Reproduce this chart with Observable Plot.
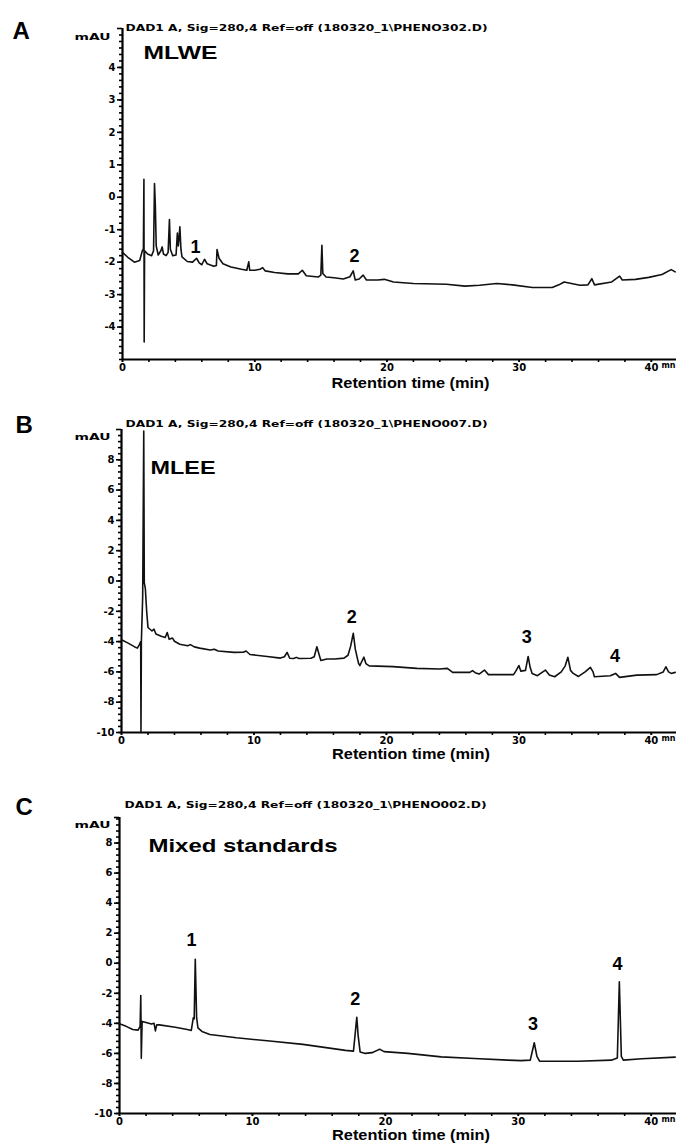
<!DOCTYPE html>
<html><head><meta charset="utf-8">
<script src="https://cdn.jsdelivr.net/npm/d3@7"></script>
<script src="https://cdn.jsdelivr.net/npm/@observablehq/plot@0.6"></script>
<style>
body{margin:0;background:#fff;}
#root{position:relative;width:686px;height:1147px;overflow:hidden;background:#fff;}
#root svg{position:absolute;left:0;overflow:visible;}
</style></head><body><div id="root"></div>
<script>
// ---------- Panel A: MLWE ----------
const timeA = [0,0.4,0.9,1.3,1.5,1.58,1.62,1.64,1.67,1.9,2.2,2.35,2.42,2.48,2.55,2.7,2.9,3.0,3.1,3.3,3.45,3.55,3.62,3.8,4.05,4.15,4.22,4.27,4.34,4.42,4.5,4.9,5.3,5.6,5.8,6.0,6.2,6.4,6.9,7.1,7.15,7.3,7.6,8.2,9.0,9.4,9.55,9.62,10.0,10.4,10.6,10.8,11.5,12.5,13.3,13.6,13.9,14.8,15.0,15.08,15.15,15.4,16.0,16.7,17.2,17.45,17.6,17.9,18.2,18.45,19.3,19.8,20.5,22.0,24.5,25.9,27.0,28.3,29.5,31.0,32.5,33.0,33.4,34.6,35.2,35.5,35.7,37.0,37.6,37.8,38.8,39.8,40.8,41.5,41.8];
const signalA = [-1.70,-1.85,-2.0,-1.95,-1.65,-1.6,0.55,-4.46,-1.65,-1.75,-1.80,-1.65,0.42,-0.2,-1.5,-1.78,-1.65,-1.53,-1.75,-1.80,-1.7,-0.69,-1.6,-1.80,-1.78,-1.1,-1.5,-1.3,-0.91,-1.6,-1.84,-1.98,-2.0,-1.88,-2.02,-2.08,-1.91,-2.05,-2.13,-2.1,-1.61,-1.88,-2.05,-2.15,-2.22,-2.25,-1.99,-2.25,-2.25,-2.22,-2.17,-2.27,-2.32,-2.36,-2.36,-2.25,-2.42,-2.46,-2.4,-1.48,-2.35,-2.46,-2.48,-2.52,-2.45,-2.27,-2.55,-2.52,-2.40,-2.55,-2.55,-2.53,-2.61,-2.66,-2.68,-2.74,-2.71,-2.66,-2.70,-2.78,-2.78,-2.70,-2.61,-2.71,-2.70,-2.51,-2.70,-2.61,-2.43,-2.55,-2.53,-2.47,-2.38,-2.23,-2.30];
const peakNamesA = ["1","2"];
const peakTimeA = [5.52,17.55];
const peakLabelYA = [-1.54,-1.83];

// ---------- Panel B: MLEE ----------
const timeB = [0,0.5,1.0,1.2,1.35,1.45,1.47,1.5,1.6,1.68,1.72,1.8,1.9,2.0,2.3,2.45,2.6,3.0,3.3,3.45,3.6,3.85,4.0,4.4,5.0,5.2,5.5,5.9,6.7,7.0,7.3,8.5,9.2,9.4,9.7,11.0,12.0,12.3,12.5,12.7,13.0,13.2,13.4,14.3,14.55,14.75,14.9,15.05,15.5,16.1,16.8,17.1,17.3,17.5,17.65,17.9,18.0,18.2,18.3,18.45,18.7,20.5,22.3,24.0,24.6,25.0,26.3,26.5,26.7,27.0,27.4,27.7,29.6,29.8,30.0,30.15,30.5,30.7,30.85,31.0,31.4,32.0,32.3,32.7,33.2,33.5,33.7,33.9,34.1,34.5,35.0,35.4,35.6,35.7,36.9,37.3,37.6,38.9,40.4,40.9,41.1,41.3,41.5,41.8];
const signalB = [-3.88,-4.1,-4.35,-4.43,-4.2,-4.0,-10,-4.0,-1.0,9.9,-0.1,-0.5,-2.0,-3.07,-3.3,-3.18,-3.5,-3.65,-3.73,-3.40,-3.85,-3.77,-3.98,-4.17,-4.28,-4.2,-4.35,-4.43,-4.56,-4.5,-4.62,-4.71,-4.70,-4.62,-4.85,-4.98,-5.09,-5.0,-4.71,-5.1,-5.12,-5.04,-5.12,-5.10,-5.0,-4.34,-4.8,-5.25,-5.15,-5.15,-5.09,-4.9,-4.3,-3.45,-4.5,-5.45,-5.58,-5.2,-5.03,-5.45,-5.6,-5.65,-5.77,-5.81,-5.77,-6.03,-6.03,-5.92,-6.05,-6.14,-5.88,-6.18,-6.18,-5.9,-5.58,-5.95,-5.9,-4.98,-5.7,-6.1,-6.25,-5.88,-6.2,-6.32,-6.0,-5.6,-5.04,-5.9,-6.1,-6.3,-6.0,-5.70,-6.0,-6.32,-6.25,-6.1,-6.36,-6.21,-6.18,-6.0,-5.66,-6.0,-6.1,-6.03];
const peakNamesB = ["2","3","4"];
const peakTimeB = [17.38,30.59,37.26];
const peakLabelYB = [-2.39,-3.71,-4.96];

// ---------- Panel C: Mixed standards ----------
const timeC = [0,0.5,1.0,1.4,1.55,1.6,1.64,1.7,2.0,2.4,2.6,2.7,2.8,3.0,4.2,5.1,5.4,5.55,5.62,5.7,5.8,5.9,6.2,6.8,8.8,11.3,13.8,17.0,17.6,17.75,17.85,17.95,18.1,18.5,19.0,19.5,19.6,19.9,21.7,24.2,26.7,29.2,30.2,30.9,31.2,31.4,31.6,34.5,37.0,37.45,37.6,37.75,37.9,39.3,41.8];
const signalC = [-4.03,-4.2,-4.41,-4.45,-4.2,-2.15,-6.33,-3.87,-3.95,-4.05,-4.0,-4.5,-4.1,-4.1,-4.26,-4.41,-4.47,-3.63,-3.7,0.27,-3.6,-4.3,-4.54,-4.74,-4.96,-5.18,-5.40,-5.80,-5.85,-4.5,-3.59,-4.8,-5.9,-6.0,-5.95,-5.75,-5.73,-5.88,-6.0,-6.23,-6.34,-6.45,-6.48,-6.45,-5.29,-6.2,-6.52,-6.52,-6.45,-6.3,-1.24,-6.2,-6.45,-6.36,-6.25];
const peakNamesC = ["1","2","3","4"];
const peakTimeC = [5.42,17.73,31.1,37.47];
const peakLabelYC = [1.51,-2.37,-4.03,-0.09];

// ---------- Axis tick labels ----------
const xMajorTicks = [0,10,20,30,40];
const yMajorTicksA = [-4,-3,-2,-1,0,1,2,3,4];
const yMajorTicksBC = [-10,-8,-6,-4,-2,0,2,4,6,8];
const panelLetters = ["A","B","C"];
const sampleNames = ["MLWE","MLEE","Mixed standards"];
const signalTitles = [
  "DAD1 A, Sig=280,4 Ref=off (180320_1\\PHENO302.D)",
  "DAD1 A, Sig=280,4 Ref=off (180320_1\\PHENO007.D)",
  "DAD1 A, Sig=280,4 Ref=off (180320_1\\PHENO002.D)"
];
const xAxisTitle = "Retention time (min)";
const yUnit = "mAU";
const xUnit = "mn";

const XMAX = 41.9;
const root = document.getElementById("root");

function stretch(svg, map){
  svg.querySelectorAll("text").forEach(t=>{
    const k = t.textContent;
    if (map[k] !== undefined){
      t.setAttribute("textLength", map[k]);
      t.setAttribute("lengthAdjust","spacingAndGlyphs");
    }
  });
}

function panel(p){
  const data = p.time.map((t,i)=>({t, v:p.signal[i]}));
  const labels = p.names.map((s,i)=>({s, t:p.lt[i], v:p.lv[i]}));
  const [y0,y1] = p.yDomain;
  const tickFont = {fontFamily:"DejaVu Sans", fontWeight:"bold"};
  const chart = Plot.plot({
    width:686, height:p.height,
    marginTop:p.mt, marginBottom:p.mb, marginLeft:p.ml, marginRight:10,
    x:{domain:[0,XMAX]}, y:{domain:p.yDomain},
    style:{background:"transparent", color:"#000", overflow:"visible"},
    marks:[
      Plot.axisY({ticks:p.minorY, tickSize:3, tickFormat:()=>"", label:null, strokeWidth:1.6}),
      Plot.axisY({ticks:p.majorY, tickSize:5, tickPadding:2, tickFormat:d=>String(d), label:null, strokeWidth:1.6, fontSize:10, ...tickFont}),
      Plot.axisY({ticks:[y1], tickSize:5, tickFormat:()=>"", label:null, strokeWidth:1.6}),
      Plot.axisX({ticks:d3.range(0,XMAX,2), tickSize:3, tickFormat:()=>"", label:null, strokeWidth:1.6}),
      Plot.axisX({ticks:xMajorTicks, tickSize:3, tickPadding:1, label:null, strokeWidth:1.6, fontSize:10, ...tickFont}),
      Plot.ruleX([0], {y1:y0, y2:y1, strokeWidth:2.2}),
      Plot.ruleY([y0], {x1:0, x2:XMAX, strokeWidth:2.2}),
      Plot.line(data, {x:"t", y:"v", stroke:"#111", strokeWidth:1.6, strokeLinejoin:"round"}),
      Plot.text(labels, {x:"t", y:"v", text:"s", fontSize:18, fontWeight:"bold", fontFamily:"Liberation Sans"}),
      Plot.text([p.letter], {frameAnchor:"top-left", dx:p.letterD[0], dy:p.letterD[1], textAnchor:"start", fontSize:24, fontWeight:"bold", fontFamily:"Liberation Sans"}),
      Plot.text([p.title], {frameAnchor:"top-left", dx:p.titleD[0], dy:p.titleD[1], textAnchor:"start", fontSize:9, fontWeight:"bold", fontFamily:"DejaVu Sans"}),
      Plot.text([yUnit], {frameAnchor:"top-left", dx:p.unitD[0], dy:p.unitD[1], textAnchor:"end", fontSize:9, fontWeight:"bold", fontFamily:"DejaVu Sans"}),
      Plot.text([p.name], {frameAnchor:"top-left", dx:p.nameD[0], dy:p.nameD[1], textAnchor:"start", fontSize:19, fontWeight:"bold", fontFamily:"Liberation Sans"}),
      Plot.text([xAxisTitle], {frameAnchor:"bottom", dx:p.axD[0], dy:p.axD[1], fontSize:14, fontWeight:"bold", fontFamily:"Liberation Sans"}),
      Plot.text([xUnit], {frameAnchor:"bottom-right", dx:-1, dy:8, fontSize:8, fontWeight:"bold", fontFamily:"DejaVu Sans"})
    ]
  });
  chart.style.top = p.top + "px";
  const m = {};
  m[p.title] = 362; m[p.name] = p.nameW; m[xAxisTitle] = 158; m[yUnit] = 36;
  stretch(chart, m);
  root.appendChild(chart);
}

panel({
  top:0, height:400, mt:28, mb:41, ml:122, yDomain:[-5,5.2],
  time:timeA, signal:signalA, names:peakNamesA, lt:peakTimeA, lv:peakLabelYA,
  majorY:yMajorTicksA, minorY:d3.range(-5,5.2,0.2),
  letter:panelLetters[0], letterD:[-110,-7], title:signalTitles[0], titleD:[3,-4],
  unitD:[-12,5], name:sampleNames[0], nameD:[21,17], nameW:74, axD:[11,28]
});
panel({
  top:400, height:380, mt:29, mb:48, ml:121, yDomain:[-10,10],
  time:timeB, signal:signalB, names:peakNamesB, lt:peakTimeB, lv:peakLabelYB,
  majorY:yMajorTicksBC, minorY:d3.range(-10,10,0.4),
  letter:panelLetters[1], letterD:[-106,-14], title:signalTitles[1], titleD:[4,-9],
  unitD:[-11,4], name:sampleNames[1], nameD:[29,31], nameW:65, axD:[12,26]
});
panel({
  top:780, height:367, mt:37, mb:34, ml:119, yDomain:[-10,9.7],
  time:timeC, signal:signalC, names:peakNamesC, lt:peakTimeC, lv:peakLabelYC,
  majorY:yMajorTicksBC, minorY:d3.range(-10,9.7,0.4),
  letter:panelLetters[2], letterD:[-104,-20], title:signalTitles[2], titleD:[5,-16],
  unitD:[-9,4], name:sampleNames[2], nameD:[29,21], nameW:189, axD:[13,26]
});
</script></body></html>
